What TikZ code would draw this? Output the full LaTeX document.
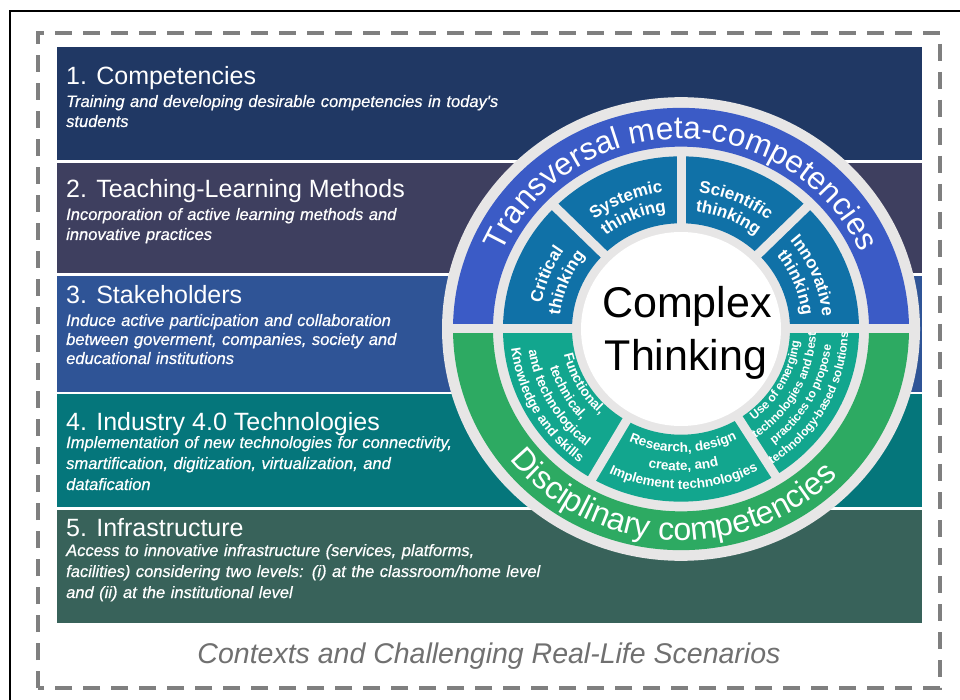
\documentclass[tikz,border=0pt]{standalone}
\usepackage{fontspec}
\setmainfont{Liberation Sans}
\newfontfamily\subfam{Liberation Sans}[ItalicFeatures={FakeBold=0.6}]
\usetikzlibrary{decorations.text}
\definecolor{bandA}{HTML}{203864}
\definecolor{bandB}{HTML}{3E3F5F}
\definecolor{bandC}{HTML}{2F5496}
\definecolor{bandD}{HTML}{05767B}
\definecolor{bandE}{HTML}{38625A}
\definecolor{ringgray}{HTML}{E7E6E6}
\definecolor{metablue}{HTML}{3B5BC6}
\definecolor{segblue}{HTML}{1071A7}
\definecolor{discgreen}{HTML}{2DAA62}
\definecolor{seggreen}{HTML}{12A68E}
\definecolor{dashgray}{HTML}{7F7F7F}
\definecolor{captiongray}{HTML}{707070}
\newcommand\tsegfont{\bfseries\fontsize{17}{17}\selectfont}
\newcommand\bsegfont{\bfseries\fontsize{13.5}{13.5}\selectfont}
\newcommand\usegfont{\bfseries\fontsize{12}{12}\selectfont}
\newcommand\ringfont{\fontsize{31.5}{31.5}\selectfont}
\newcommand\ringfontb{\fontsize{32}{32}\selectfont}
\tikzset{
  bandtitle/.style={anchor=base west, inner sep=0pt, text=white, font=\fontsize{25}{30}\selectfont},
  bandsub/.style={anchor=base west, inner sep=0pt, text=white, align=left, text width=600pt, font=\subfam\itshape\fontsize{16.5}{#1}\selectfont},
  sep/.style={draw=ringgray, line width=9pt},
  arctext/.style={decorate, decoration={text along path, text align=center, text color=white, text={#1}}}
}
\begin{document}
\begin{tikzpicture}[x=1pt,y=1pt]
\useasboundingbox (0,0) rectangle (960,699);
\fill[white] (0,0) rectangle (960,699);
% outer black frame
\draw[black, line width=1.5pt] (10,-10) -- (10,688) -- (975,688);
% dashed context frame
\draw[dashgray, line width=3.5pt, dash pattern=on 17pt off 11pt] (38,11) rectangle (940,666);
% bands
\fill[bandA] (57,652) rectangle (922,539);
\fill[bandB] (57,536) rectangle (922,426);
\fill[bandC] (57,423) rectangle (922,307);
\fill[bandD] (57,305) rectangle (922,192);
\fill[bandE] (57,189) rectangle (922,76);
% band texts
\node[bandtitle] (t1) at (66,614) {1. Competencies};
\node[bandsub=20] (s1) at (66,592) {Training and developing desirable competencies in today's\\students};
\node[bandtitle] (t2) at (66,501) {2. Teaching-Learning Methods};
\node[bandsub=20] (s2) at (66,479) {Incorporation of active learning methods and\\innovative practices};
\node[bandtitle] (t3) at (66,395) {3. Stakeholders};
\node[bandsub=19] (s3) at (66,373) {Induce active participation and collaboration\\between goverment, companies, society and\\educational institutions};
\node[bandtitle] (t4) at (66,268) {4. Industry 4.0 Technologies};
\node[bandsub=21] (s4) at (66,251) {Implementation of new technologies for connectivity,\\smartification, digitization, virtualization, and\\datafication};
\node[bandtitle] (t5) at (66,163) {5. Infrastructure};
\node[bandsub=21] (s5) at (66,143) {Access to innovative infrastructure (services, platforms,\\facilities) considering two levels: (i) at the classroom/home level\\and (ii) at the institutional level};
% caption
\node[anchor=base, inner sep=0pt, text=captiongray, font=\itshape\fontsize{28.5}{30}\selectfont] (cap) at (489,36) {Contexts and Challenging Real-Life Scenarios};
% ring
\begin{scope}[shift={(681,370)}, yscale=0.97]
  \fill[ringgray] (0,0) circle[radius=239];
  \fill[metablue] (0:228) arc[start angle=0,end angle=180,radius=228] -- (180:188) arc[start angle=180,end angle=0,radius=188] -- cycle;
  \fill[discgreen] (180:228) arc[start angle=180,end angle=360,radius=228] -- (360:188) arc[start angle=360,end angle=180,radius=188] -- cycle;
  \fill[segblue] (0:178) arc[start angle=0,end angle=180,radius=178] -- (180:109) arc[start angle=180,end angle=0,radius=109] -- cycle;
  \fill[seggreen] (180:178) arc[start angle=180,end angle=360,radius=178] -- (360:109) arc[start angle=360,end angle=180,radius=109] -- cycle;
  \draw[sep] (180:233) -- (0:233);
  \foreach \a in {45,90,135,240,302} \draw[sep] (\a:100) -- (\a:184);
  \fill[white] (0,0) circle[radius=100];
  % outer band texts
  \path[arctext={|\ringfont|Transversal meta-competencies}] (170:196) arc[start angle=170,end angle=10,radius=196];
  \path[arctext={|\ringfontb|Disciplinary competencies}] (185:218) arc[start angle=185,end angle=349,radius=218];
  % upper segments
  \path[arctext={|\tsegfont|Critical}] (180:142) arc[start angle=180,end angle=135,radius=142];
  \path[arctext={|\tsegfont|thinking}] (180:122) arc[start angle=180,end angle=135,radius=122];
  \path[arctext={|\tsegfont|Systemic}] (135:142) arc[start angle=135,end angle=90,radius=142];
  \path[arctext={|\tsegfont|thinking}] (135:122) arc[start angle=135,end angle=90,radius=122];
  \path[arctext={|\tsegfont|Scientific}] (90:142) arc[start angle=90,end angle=45,radius=142];
  \path[arctext={|\tsegfont|thinking}] (90:122) arc[start angle=90,end angle=45,radius=122];
  \path[arctext={|\tsegfont|Innovative}] (45:142) arc[start angle=45,end angle=0,radius=142];
  \path[arctext={|\tsegfont|thinking}] (45:122) arc[start angle=45,end angle=0,radius=122];
  % lower segments
  \path[arctext={|\bsegfont|Functional,}] (180:120) arc[start angle=180,end angle=240,radius=120];
  \path[arctext={|\bsegfont|technical,}] (180:137) arc[start angle=180,end angle=240,radius=137];
  \path[arctext={|\bsegfont|and technological}] (180:154) arc[start angle=180,end angle=240,radius=154];
  \path[arctext={|\bsegfont|Knowledge and skills}] (178:171) arc[start angle=178,end angle=242,radius=171];
  \path[arctext={|\bsegfont|Research, design}] (230:127) arc[start angle=230,end angle=312,radius=127];
  \path[arctext={|\bsegfont|create, and}] (230:146) arc[start angle=230,end angle=312,radius=146];
  \path[arctext={|\bsegfont|Implement technologies}] (230:165) arc[start angle=230,end angle=312,radius=165];
  \path[arctext={|\usegfont|Use of emerging}] (296:119) arc[start angle=296,end angle=366,radius=119];
  \path[arctext={|\usegfont|technologies and best}] (296:135) arc[start angle=296,end angle=366,radius=135];
  \path[arctext={|\usegfont|practices to propose}] (296:151) arc[start angle=296,end angle=366,radius=151];
  \path[arctext={|\usegfont|technology-based solutions}] (296:167) arc[start angle=296,end angle=366,radius=167];
\end{scope}
% centre text
\node[anchor=base, inner sep=0pt, font=\fontsize{43}{50}\selectfont] (cx) at (687,381) {Complex};
\node[anchor=base, inner sep=0pt, font=\fontsize{43}{50}\selectfont] (th) at (686,328) {Thinking};
\end{tikzpicture}
\end{document}
